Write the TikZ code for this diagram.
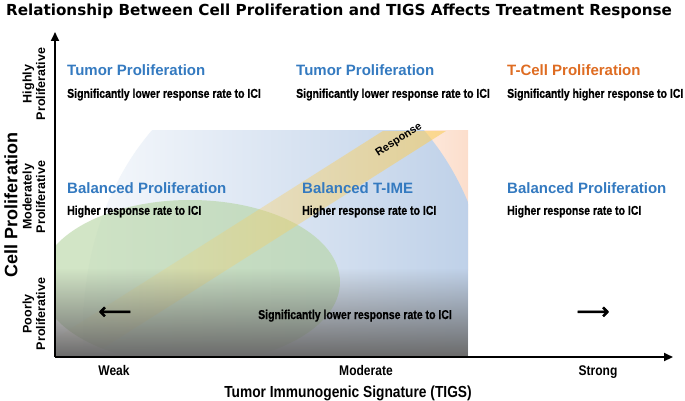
\documentclass[tikz,border=0pt]{standalone}
\usepackage{fontspec}
\setmainfont{Liberation Sans}
\newfontfamily\titlefont{DejaVu Sans}
\newfontfamily\arrowfont[FakeBold=2.5]{DejaVu Sans}
\newfontfamily\narrowfont[FakeStretch=0.82, FakeBold=0.6]{Liberation Sans}
\newfontfamily\axisfont[FakeStretch=0.86]{Liberation Sans}
\usetikzlibrary{arrows.meta, positioning, fadings}

\definecolor{headblue}{RGB}{52,122,192}
\definecolor{headorange}{RGB}{222,108,34}
\definecolor{imeblue}{RGB}{184,204,230}
\definecolor{prolgreen}{RGB}{180,212,160}
\definecolor{respyellow}{RGB}{250,206,92}
\definecolor{tcellpeach}{RGB}{252,222,204}

\tikzfading[name=fade up, top color=transparent!100, bottom color=transparent!0]
\tikzfading[name=fade right, left color=transparent!92, right color=transparent!0]

\begin{document}
\begin{tikzpicture}[x=1pt, y=-1pt,
  heading/.style={anchor=base west, inner sep=0pt, font=\bfseries\fontsize{15}{17}\selectfont, text=headblue},
  subtext/.style={inner sep=0pt, font=\narrowfont\bfseries\fontsize{12.8}{14}\selectfont},
  level/.style={rotate=90, align=center, inner sep=0pt, font=\bfseries\fontsize{12.5}{13.5}\selectfont},
  tick/.style={anchor=base, inner sep=0pt, font=\axisfont\bfseries\fontsize{14}{16}\selectfont},
  longarrow/.style={inner sep=0pt, font=\arrowfont\fontsize{23}{23}\selectfont},
  axis/.style={line width=2.2pt, -{Triangle[length=9pt, width=8pt]}}
]
  \useasboundingbox (0,0) rectangle (685,401);

  % coloured field
  \begin{scope}
    \clip (56,131) rectangle (468,356);
    \fill[white] (56,131) rectangle (468,356);
    \shade[left color=tcellpeach!30, right color=tcellpeach] (370,131) rectangle (468,270);
    \shade[left color=imeblue!12, right color=imeblue!95] (288,330) ellipse [x radius=205, y radius=267];
    \fill[prolgreen, opacity=0.6] (190,282) ellipse [x radius=150, y radius=82];
    \fill[respyellow, opacity=0.6, path fading=fade right]
      (383,131) -- (446,131) -- (56,378) -- (56,338) -- cycle;
    \fill[black!58, path fading=fade up] (56,268) rectangle (468,356);
  \end{scope}

  % axes
  \coordinate (origin) at (55,357);
  \coordinate (ytip) at (55,32);
  \coordinate (xtip) at (673,357);
  \draw[axis] (origin) -- (ytip);
  \draw[axis] (origin) -- (xtip);

  \node[anchor=base, inner sep=0pt, font=\titlefont\bfseries\fontsize{15.2}{17}\selectfont] (title) at (339,16)
    {Relationship Between Cell Proliferation and TIGS Affects Treatment Response};

  % top row
  \node[heading] (tp1) at (67,76) {Tumor Proliferation};
  \node[heading] (tp2) at (296,76) {Tumor Proliferation};
  \node[heading, text=headorange] (tcp) at (507,76) {T-Cell Proliferation};
  \node[subtext, below right=12pt and 0pt of tp1.south west] (tp1txt) {Significantly lower response rate to ICI};
  \node[subtext, below right=12pt and 0pt of tp2.south west] (tp2txt) {Significantly lower response rate to ICI};
  \node[subtext, below right=12pt and 0pt of tcp.south west] (tcptxt) {Significantly higher response to ICI};

  % middle row
  \node[heading] (bp1) at (67,193) {Balanced Proliferation};
  \node[heading] (bime) at (302,193) {Balanced T-IME};
  \node[heading] (bp2) at (507,193) {Balanced Proliferation};
  \node[subtext, below right=12pt and 0pt of bp1.south west] (bp1txt) {Higher response rate to ICI};
  \node[subtext, below right=12pt and 0pt of bime.south west] (bimetxt) {Higher response rate to ICI};
  \node[subtext, below right=12pt and 0pt of bp2.south west] (bp2txt) {Higher response rate to ICI};

  % bottom row
  \node[subtext, anchor=base west] (lowtxt) at (258,319) {Significantly lower response rate to ICI};
  \node[longarrow] (larrow) at (115,313) {⟵};
  \node[longarrow] (rarrow) at (593,313) {⟶};

  \node[inner sep=0pt, rotate=33, font=\bfseries\fontsize{11}{13}\selectfont] (resp) at (399,140) {Response};

  % axis labels
  \node[level] (high) at (34,84) {Highly\\Proliferative};
  \node[level] (mod) at (34,197) {Moderately\\Proliferative};
  \node[level] (poor) at (34,314) {Poorly\\Proliferative};
  \node[rotate=90, inner sep=0pt, font=\bfseries\fontsize{18}{20}\selectfont] (ylab) at (11,205) {Cell Proliferation};

  \node[tick] (weak) at (114,375) {Weak};
  \node[tick] (moderate) at (366,375) {Moderate};
  \node[tick] (strong) at (598,375) {Strong};
  \node[anchor=base, inner sep=0pt, font=\axisfont\bfseries\fontsize{16}{18}\selectfont] (xlab) at (348,397)
    {Tumor Immunogenic Signature (TIGS)};
\end{tikzpicture}
\end{document}
